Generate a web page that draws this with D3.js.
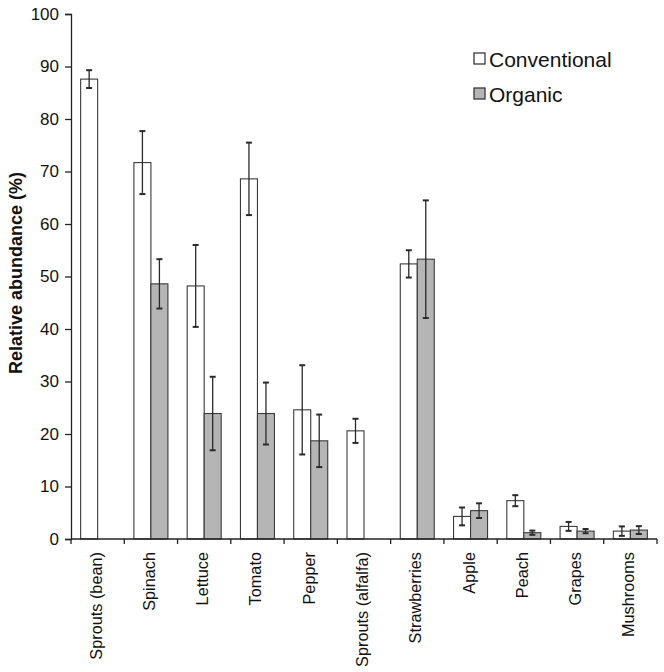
<!DOCTYPE html>
<html><head><meta charset="utf-8">
<script src="https://cdn.jsdelivr.net/npm/d3@7"></script>
<style>body{margin:0;background:#fff}svg{display:block}text{font-family:"Liberation Sans",Arial,sans-serif}</style>
</head><body>
<script>
const categories = ["Sprouts (bean)","Spinach","Lettuce","Tomato","Pepper","Sprouts (alfalfa)","Strawberries","Apple","Peach","Grapes","Mushrooms"];
const series = ["Conventional","Organic"];
const conventional = [87.6,71.7,48.2,68.6,24.6,20.6,52.4,4.3,7.3,2.4,1.5];
const conventionalErr = [1.7,6.0,7.8,6.9,8.5,2.3,2.6,1.7,1.05,0.85,0.9];
const organic = [null,48.6,23.9,23.9,18.7,null,53.3,5.4,1.2,1.5,1.7];
const organicErr = [null,4.7,7.0,5.9,5.0,null,11.2,1.4,0.4,0.4,0.75];
const yTicks = [0,10,20,30,40,50,60,70,80,90,100];

const W=664,H=672;
const m={left:71,right:8,top:14,bottom:133};
const svg=d3.select("body").append("svg").attr("width",W).attr("height",H);
const x=d3.scaleBand().domain(categories).range([m.left,657]).paddingInner(0).paddingOuter(0);
const y=d3.scaleLinear().domain([0,100]).range([539,14]);
const bw=17;
const fills={Conventional:"#ffffff",Organic:"#b5b5b5"};
const stroke="#3a3a3a";

// bars
const rows=[];
categories.forEach((c,i)=>{
  [[conventional,conventionalErr,0],[organic,organicErr,1]].forEach(([v,e,k])=>{
    if(v[i]!=null) rows.push({c,v:v[i],e:e[i],k,s:series[k]});
  });
});
const bx=d=>x(d.c)+x.bandwidth()/2-bw+d.k*bw;
svg.append("g").selectAll("rect").data(rows).join("rect")
  .attr("x",bx).attr("y",d=>y(d.v)).attr("width",bw).attr("height",d=>y(0)-y(d.v))
  .attr("fill",d=>fills[d.s]).attr("stroke",stroke).attr("stroke-width",1.1);

// error bars
const eg=svg.append("g").attr("stroke","#2a2a2a").attr("stroke-width",1.3);
rows.forEach(d=>{
  const cx=bx(d)+bw/2;
  eg.append("line").attr("x1",cx).attr("x2",cx).attr("y1",y(d.v+d.e)).attr("y2",y(d.v-d.e));
  [d.v+d.e,d.v-d.e].forEach(t=>eg.append("line").attr("x1",cx-3).attr("x2",cx+3).attr("y1",y(t)).attr("y2",y(t)).attr("stroke-width",2));
});

// y axis
const ya=svg.append("g").attr("transform",`translate(${m.left},0)`)
  .call(d3.axisLeft(y).tickValues(yTicks).tickSize(6).tickPadding(6));
ya.select(".domain").attr("stroke","#222").attr("stroke-width",1.3);
ya.selectAll(".tick line").attr("stroke","#222").attr("stroke-width",1.3);
ya.selectAll("text").attr("font-size",17).attr("fill","#111");

// x axis
const xa=svg.append("g").attr("transform",`translate(0,${y(0)})`);
xa.append("line").attr("x1",m.left).attr("x2",657).attr("stroke","#222").attr("stroke-width",1.3);
const bounds=categories.map(c=>x(c)).concat([x(categories[categories.length-1])+x.bandwidth()]);
xa.selectAll("line.t").data(bounds).join("line").attr("class","t")
  .attr("x1",d=>d).attr("x2",d=>d).attr("y1",0).attr("y2",5).attr("stroke","#222").attr("stroke-width",1.3);
xa.selectAll("text").data(categories).join("text")
  .attr("transform",d=>`translate(${x(d)+x.bandwidth()/2+4},13) rotate(-90)`)
  .attr("text-anchor","end").attr("font-size",16.3).attr("fill","#111").text(d=>d);

// y title
svg.append("text").attr("transform","translate(22,273) rotate(-90)")
  .attr("text-anchor","middle").attr("font-size",18).attr("font-weight","bold").attr("fill","#111")
  .text("Relative abundance (%)");

// legend
const lg=svg.append("g");
series.forEach((s,i)=>{
  const ly=59+i*35;
  lg.append("rect").attr("x",474).attr("y",ly-6).attr("width",11).attr("height",11)
    .attr("fill",fills[s]).attr("stroke",stroke).attr("stroke-width",1.3);
  lg.append("text").attr("x",489).attr("y",ly+7.5).attr("font-size",21).attr("fill","#111").text(s);
});
</script>
</body></html>
